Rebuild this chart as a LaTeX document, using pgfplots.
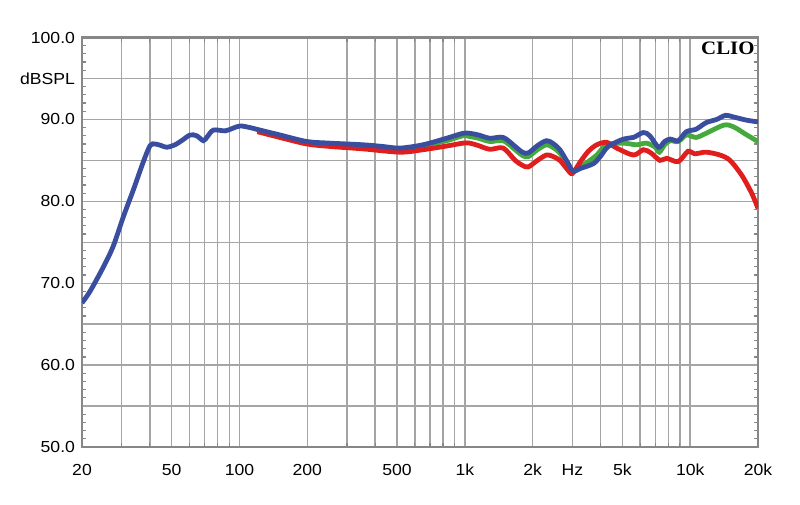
\documentclass[border=0pt]{standalone}
\usepackage{pgfplots}
\pgfplotsset{compat=1.18}
\usepackage{fontspec}
\setmainfont{Liberation Sans}[FakeStretch=1.1]
\newfontfamily\cliofont{Liberation Serif}[FakeStretch=1.1]
\definecolor{cblue}{RGB}{58,78,160}
\definecolor{cred}{RGB}{224,30,30}
\definecolor{cgreen}{RGB}{68,170,60}
\definecolor{gridgray}{RGB}{165,165,165}
\definecolor{framegray}{RGB}{135,135,135}
\begin{document}
\begin{tikzpicture}
\begin{axis}[name=ax, scale only axis, width=338bp, height=204.75bp,
  xmode=log, xmin=20, xmax=20000, ymin=50, ymax=100,
  xtick={20,50,100,200,500,1000,2000,3000,5000,10000,20000},
  xticklabels={20,50,100,200,500,1k,2k,Hz,5k,10k,20k},
  minor xtick={30,40,60,70,80,90,300,400,600,700,800,900,4000,6000,7000,8000,9000},
  ytick={50,55,60,65,70,75,80,85,90,95,100},
  yticklabels={50.0,,60.0,,70.0,,80.0,,90.0,dBSPL,100.0},
  minor y tick num=4,
  xmajorgrids, xminorgrids, ymajorgrids,
  grid style={draw=gridgray, line width=0.7bp},
  major tick length=0pt, minor tick length=2bp,
  axis line style={draw=framegray, line width=1.2bp},
  tick style={draw=framegray, line width=0.6bp},
  ticklabel style={font=\fontsize{8bp}{9.6bp}\selectfont, text=black},
  xticklabel style={yshift=-5bp},
  yticklabel style={xshift=0bp},
]
\addplot[cgreen, line width=2.4bp, smooth] coordinates {
(120,88.7)(151,88.0)(199,87.2)(252,87.0)(354,86.8)(516,86.4)(652,86.8)(830,87.4)
(980,88.0)(1054,87.9)(1150,87.7)(1292,87.3)(1480,87.4)(1672,86.3)(1800,85.6)(1912,85.45)
(2100,86.3)(2300,86.9)(2450,86.6)(2640,85.9)(2850,84.4)(3018,83.6)(3250,84.2)(3530,84.85)
(3850,85.65)(4260,86.9)(5060,87.1)(5780,86.9)(6400,87.1)(7000,86.6)(7300,86.0)(7700,86.9)
(8150,87.4)(8850,87.3)(9620,88.1)(10620,87.8)(11760,88.3)(14100,89.3)(15560,89.1)(17840,88.1)(20000,87.3)
};
\addplot[cred, line width=2.4bp, smooth] coordinates {
(120,88.5)(151,87.8)(199,87.0)(252,86.7)(354,86.4)(516,86.0)(652,86.3)(830,86.75)
(980,87.1)(1054,87.1)(1150,86.8)(1292,86.35)(1480,86.5)(1672,85.0)(1800,84.4)(1912,84.2)
(2100,85.0)(2300,85.65)(2450,85.5)(2640,85.0)(2850,83.9)(3000,83.4)(3250,84.8)(3530,86.1)
(3850,86.9)(4260,87.2)(4720,86.5)(5600,85.65)(6200,86.3)(6700,85.9)(7340,85.0)(7870,85.25)
(8850,84.85)(9780,86.1)(10460,85.8)(11760,86.0)(13560,85.65)(15020,85.0)(16920,83.2)(18740,81.0)(20000,79.15)
};
\addplot[cblue, line width=2.4bp, smooth] coordinates {
(20,67.6)(21.7,69.0)(24.9,72.0)(27.5,74.5)(30.5,78.1)(33.8,81.4)(37.4,84.8)(40.1,86.8)
(42.2,87.0)(45,86.8)(47.6,86.6)(51.7,86.9)(56,87.5)(60.3,88.1)(64.6,88.0)(69.1,87.4)
(72,87.9)(76.6,88.7)(86.4,88.6)(93,88.9)(100.6,89.2)(111.4,89.0)(119,88.8)(151,88.1)
(199,87.3)(252,87.1)(354,86.9)(430,86.7)(516,86.5)(652,86.9)(830,87.7)(980,88.3)
(1054,88.3)(1150,88.1)(1292,87.7)(1480,87.8)(1672,86.7)(1800,86.0)(1912,85.9)(2100,86.8)
(2300,87.4)(2450,87.1)(2640,86.3)(2850,84.8)(3018,83.7)(3250,84.0)(3720,84.6)(4000,85.5)
(4330,86.7)(5060,87.6)(5600,87.8)(6200,88.4)(6620,88.0)(7240,86.6)(7700,87.3)(8150,87.6)
(8850,87.4)(9620,88.5)(10620,88.8)(11760,89.6)(13120,90.0)(14340,90.5)(15560,90.3)(17840,89.9)(20000,89.7)
};
\node[anchor=north east, inner sep=0pt, font=\cliofont\bfseries\fontsize{9.5bp}{10bp}\selectfont]
  at ([xshift=-1.5bp, yshift=-1.8bp]rel axis cs:1,1) {CLIO};
\end{axis}
\useasboundingbox ([xshift=-41bp, yshift=-28.5bp]ax.south west) rectangle ([xshift=21bp, yshift=18.75bp]ax.north east);
\end{tikzpicture}
\end{document}
